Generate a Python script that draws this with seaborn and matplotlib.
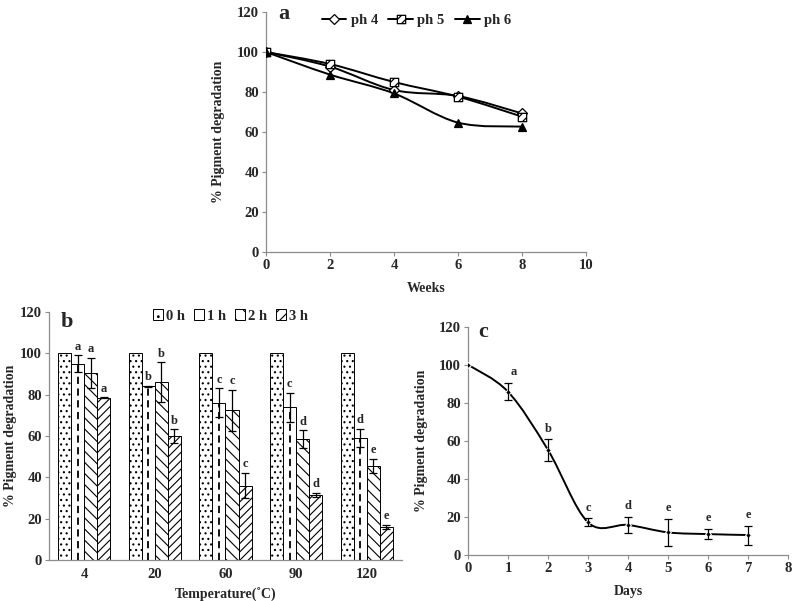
import numpy as np
import pandas as pd
import matplotlib
matplotlib.use('Agg')
import matplotlib.pyplot as plt
import seaborn as sns
from matplotlib.path import Path
from matplotlib.patches import PathPatch, Patch
from matplotlib.lines import Line2D

# --- panel a: pH stability over weeks ---
weeks = [0, 2, 4, 6, 8]
ph4 = [100, 92.7, 81.0, 78.0, 69.3]
ph5 = [100, 94.0, 85.0, 77.7, 67.7]
ph6 = [100, 88.7, 79.3, 64.7, 62.7]

# --- panel b: temperature stability ---
temps = ['4', '20', '60', '90', '120']
hours = ['0 h', '1 h', '2 h', '3 h']
deg_0h = [100, 100, 100, 100, 100]
deg_1h = [95.0, 84.0, 76.0, 74.0, 59.0]
deg_2h = [90.5, 86.0, 72.5, 58.5, 45.5]
deg_3h = [78.5, 60.0, 36.0, 31.5, 16.0]
err_0h = [0, 0, 0, 0, 0]
err_1h = [4.2, 0.4, 7.0, 7.0, 4.5]
err_2h = [7.5, 9.6, 10.0, 4.2, 3.5]
err_3h = [0.3, 3.2, 6.2, 1.0, 1.0]
let_0h = ['', '', '', '', '']
let_1h = ['a', 'b', 'c', 'c', 'd']
let_2h = ['a', 'b', 'c', 'd', 'e']
let_3h = ['a', 'b', 'c', 'd', 'e']

# --- panel c: degradation over days ---
days = [0, 1, 2, 3, 4, 5, 6, 7]
deg_days = [100, 85.8, 55.2, 17.2, 15.8, 11.9, 11.0, 10.5]
err_days = [0, 4.5, 5.6, 2.0, 4.4, 6.9, 2.6, 5.0]
let_days = ['', 'a', 'b', 'c', 'd', 'e', 'e', 'e']

sns.set_theme(style='white')
plt.rcParams['font.family'] = ['Liberation Serif', 'DejaVu Serif']
plt.rcParams['font.weight'] = 'bold'
plt.rcParams['hatch.linewidth'] = 0.8

GREY = '#8c8c8c'
FS_TICK = 10.5
FS_LAB = 10


def smooth_path(x, y):
    # excel-like smoothed line: cubic bezier segments (catmull-rom tangents)
    x = np.asarray(x, float)
    y = np.asarray(y, float)
    n = len(x)
    verts = [(x[0], y[0])]
    codes = [Path.MOVETO]
    for i in range(n - 1):
        p0 = i - 1 if i > 0 else i
        p3 = i + 2 if i + 2 < n else i + 1
        c1 = (x[i] + (x[i + 1] - x[p0]) / 6, y[i] + (y[i + 1] - y[p0]) / 6)
        c2 = (x[i + 1] - (x[p3] - x[i]) / 6, y[i + 1] - (y[p3] - y[i]) / 6)
        verts += [c1, c2, (x[i + 1], y[i + 1])]
        codes += [Path.CURVE4] * 3
    return Path(verts, codes)


def style_axes(ax):
    sns.despine(ax=ax)
    for s in ['left', 'bottom']:
        ax.spines[s].set_color(GREY)
        ax.spines[s].set_linewidth(0.9)
    ax.tick_params(axis='both', direction='out', length=3, width=0.8,
                   color=GREY, labelsize=FS_TICK, pad=2,
                   bottom=True, left=True)
    for lab in ax.get_xticklabels() + ax.get_yticklabels():
        lab.set_fontweight('bold')


# square marker with diagonal hatch lines
sq_hatch = Path([(-1, -1), (1, -1), (1, 1), (-1, 1), (-1, -1),
                 (-1, 0), (0, 1), (0, -1), (1, 0)],
                [Path.MOVETO, Path.LINETO, Path.LINETO, Path.LINETO, Path.CLOSEPOLY,
                 Path.MOVETO, Path.LINETO, Path.MOVETO, Path.LINETO])

fig = plt.figure(figsize=(7.93, 6.01), dpi=100)
ax_a = fig.add_axes([0.3354, 0.5807, 0.4035, 0.3993])
ax_b = fig.add_axes([0.0618, 0.0682, 0.4451, 0.4126])
ax_c = fig.add_axes([0.5902, 0.0765, 0.4035, 0.3799])

# ---------------- panel a ----------------
series_a = [('ph 4', ph4, 'D', 'white', 5), ('ph 5', ph5, sq_hatch, 'white', 6),
            ('ph 6', ph6, '^', 'black', 6)]
handles = []
for name, vals, mk, fc, ms in series_a:
    ax_a.add_patch(PathPatch(smooth_path(weeks, vals), fill=False,
                             edgecolor='black', lw=1.4, zorder=2))
    df = pd.DataFrame({'week': weeks, 'val': vals})
    sns.lineplot(data=df, x='week', y='val', ax=ax_a, marker=mk, markersize=ms,
                 markerfacecolor=fc, markeredgecolor='black', markeredgewidth=0.9,
                 linestyle='none', color='black', zorder=3)
    handles.append(Line2D([0], [0], color='black', lw=1.4, marker=mk, markersize=ms,
                          markerfacecolor=fc, markeredgecolor='black',
                          markeredgewidth=0.9, label=name))
ax_a.set_xlim(0, 10)
ax_a.set_ylim(0, 120)
ax_a.set_xticks(range(0, 11, 2))
ax_a.set_yticks(range(0, 121, 20))
ax_a.set_xlabel('Weeks', fontsize=FS_LAB, fontweight='bold', labelpad=7)
ax_a.set_ylabel('% Pigment degradation', fontsize=FS_LAB, fontweight='bold', labelpad=9)
style_axes(ax_a)
ax_a.legend(handles=handles, loc='center', bbox_to_anchor=(0.47, 0.965), ncol=3,
            frameon=False, fontsize=10.5, handlelength=1.7, columnspacing=0.7,
            handletextpad=0.3, borderaxespad=0)
ax_a.text(0.055, 0.99, 'a', transform=ax_a.transAxes, fontsize=16,
          fontweight='bold', ha='center', va='center')

# ---------------- panel b ----------------
vals_b = [deg_0h, deg_1h, deg_2h, deg_3h]
errs_b = [err_0h, err_1h, err_2h, err_3h]
lets_b = [let_0h, let_1h, let_2h, let_3h]
df_b = pd.DataFrame({
    'temp': np.repeat([temps], 4, axis=0).ravel(),
    'time': np.repeat(hours, len(temps)),
    'val': np.concatenate(vals_b),
})
sns.barplot(data=df_b, x='temp', y='val', hue='time', order=temps, hue_order=hours,
            ax=ax_b, width=0.74, palette=['white'] * 4,
            edgecolor='black', linewidth=0.7, errorbar=None, legend=False)
hatches = ['...', '', '\\\\\\', '////']
for k, (cont, h, errs, lets) in enumerate(zip(ax_b.containers, hatches, errs_b, lets_b)):
    xs, ys = [], []
    for bar in cont:
        bar.set_hatch(h)
        bar.set_facecolor('white')
        bar.set_edgecolor('black')
        xs.append(bar.get_x() + bar.get_width() / 2)
        ys.append(bar.get_height())
    xs = np.array(xs)
    ys = np.array(ys)
    if k == 1:
        # dashed centre line pattern of the 1 h bars
        ax_b.vlines(xs, 0, ys, colors='black', linestyles=(0, (4, 2.5)), lw=1.3, zorder=3)
    errs = np.array(errs)
    mask = errs > 0
    ax_b.errorbar(xs[mask], ys[mask], yerr=errs[mask], fmt='none', ecolor='black',
                  elinewidth=0.9, capsize=3, capthick=0.9, zorder=4)
    for x, y, e, t in zip(xs, ys, errs, lets):
        if t:
            ax_b.text(x, y + e + 1.2, t, ha='center', va='bottom', fontsize=9,
                      fontweight='bold')
ax_b.set_xlim(-0.5, 4.5)
ax_b.set_ylim(0, 120)
ax_b.set_yticks(range(0, 121, 20))
ax_b.set_xlabel('Temperature(˚C)', fontsize=FS_LAB, fontweight='bold', labelpad=5)
ax_b.set_ylabel('% Pigment degradation', fontsize=FS_LAB, fontweight='bold', labelpad=2)
style_axes(ax_b)
ax_b.tick_params(axis='x', length=0, pad=6)
leg_h = [Patch(facecolor='white', edgecolor='black', hatch=h, lw=0.7, label=l)
         for h, l in zip(['..', '|', '\\\\', '///'], hours)]
ax_b.legend(handles=leg_h, loc='center', bbox_to_anchor=(0.514, 0.984), ncol=4,
            frameon=False, fontsize=10.5, handlelength=0.7, handleheight=0.7,
            handletextpad=0.2, columnspacing=0.6, borderaxespad=0)
ax_b.text(0.05, 0.96, 'b', transform=ax_b.transAxes, fontsize=16,
          fontweight='bold', ha='center', va='center')

# ---------------- panel c ----------------
ax_c.add_patch(PathPatch(smooth_path(days, deg_days), fill=False,
                         edgecolor='black', lw=1.4, zorder=2))
df_c = pd.DataFrame({'day': days, 'val': deg_days})
sns.lineplot(data=df_c, x='day', y='val', ax=ax_c, marker='D', markersize=3,
             color='black', linestyle='none', zorder=3)
ax_c.errorbar(days[1:], deg_days[1:], yerr=err_days[1:], fmt='none', ecolor='black',
              elinewidth=0.9, capsize=3, capthick=0.9, zorder=4)
for d, v, e, t in zip(days, deg_days, err_days, let_days):
    if t:
        dx = 0.15 if d == 1 else 0
        ax_c.text(d + dx, v + e + 2.5, t, ha='center', va='bottom', fontsize=9,
                  fontweight='bold')
ax_c.set_xlim(0, 8)
ax_c.set_ylim(0, 120)
ax_c.set_xticks(range(0, 9))
ax_c.set_yticks(range(0, 121, 20))
ax_c.set_xlabel('Days', fontsize=FS_LAB, fontweight='bold', labelpad=7)
ax_c.set_ylabel('% Pigment degradation', fontsize=FS_LAB, fontweight='bold', labelpad=8)
style_axes(ax_c)
ax_c.text(0.046, 0.978, 'c', transform=ax_c.transAxes, fontsize=16,
          fontweight='bold', ha='center', va='center')

fig.savefig('out.png', dpi=100)
